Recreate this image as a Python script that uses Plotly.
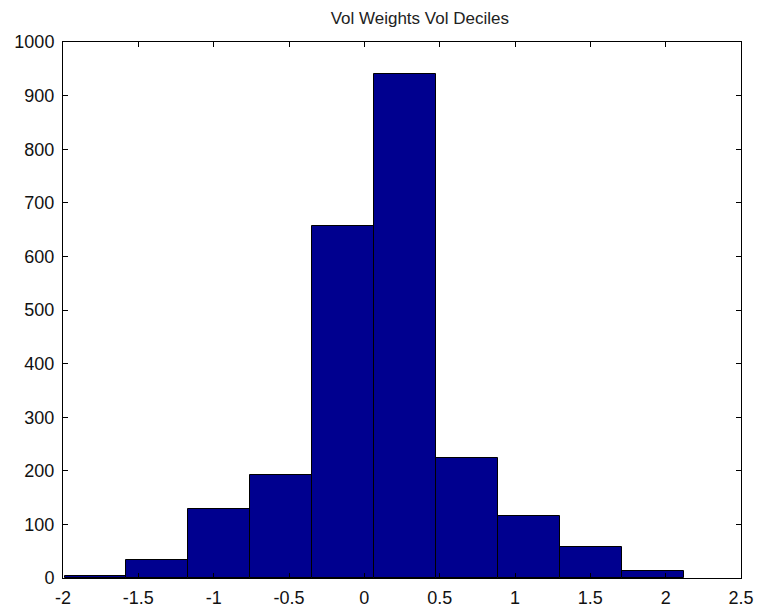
import numpy as np
import plotly.graph_objects as go

title = "Vol Weights Vol Deciles"
bin_start = -1.99
bin_width = 0.4114
counts = [4, 34, 128, 192, 657, 940, 224, 116, 57, 13]
x_ticks = [-2, -1.5, -1, -0.5, 0, 0.5, 1, 1.5, 2, 2.5]
x_tick_text = ["-2", "-1.5", "-1", "-0.5", "0", "0.5", "1", "1.5", "2", "2.5"]
y_ticks = [0, 100, 200, 300, 400, 500, 600, 700, 800, 900, 1000]

centers = bin_start + bin_width * (np.arange(len(counts)) + 0.5)

fig = go.Figure(go.Bar(
    x=centers, y=counts, width=bin_width,
    marker=dict(color="#00008F", line=dict(color="black", width=1)),
))

axis_common = dict(
    showline=True, linecolor="black", linewidth=1, mirror="ticks",
    ticks="inside", ticklen=5, tickcolor="black", showgrid=False, zeroline=False,
    automargin=False,
    tickfont=dict(family="Liberation Sans, Arial, sans-serif", size=18, color="#111"),
)

fig.update_layout(
    width=766, height=611,
    margin=dict(l=63, r=25, t=42, b=33),
    paper_bgcolor="white", plot_bgcolor="white",
    showlegend=False, bargap=0,
    title=dict(text=title, x=0.548, xanchor="center", y=0.971, yanchor="middle",
               font=dict(family="Liberation Sans, Arial, sans-serif", size=17, color="#222")),
    xaxis=dict(range=[-2, 2.5], tickvals=x_ticks, ticktext=x_tick_text,
               ticklabelstandoff=3, **axis_common),
    yaxis=dict(range=[0, 1000], tickvals=y_ticks, ticklabelstandoff=4, **axis_common),
)

fig.write_html("out.html")
